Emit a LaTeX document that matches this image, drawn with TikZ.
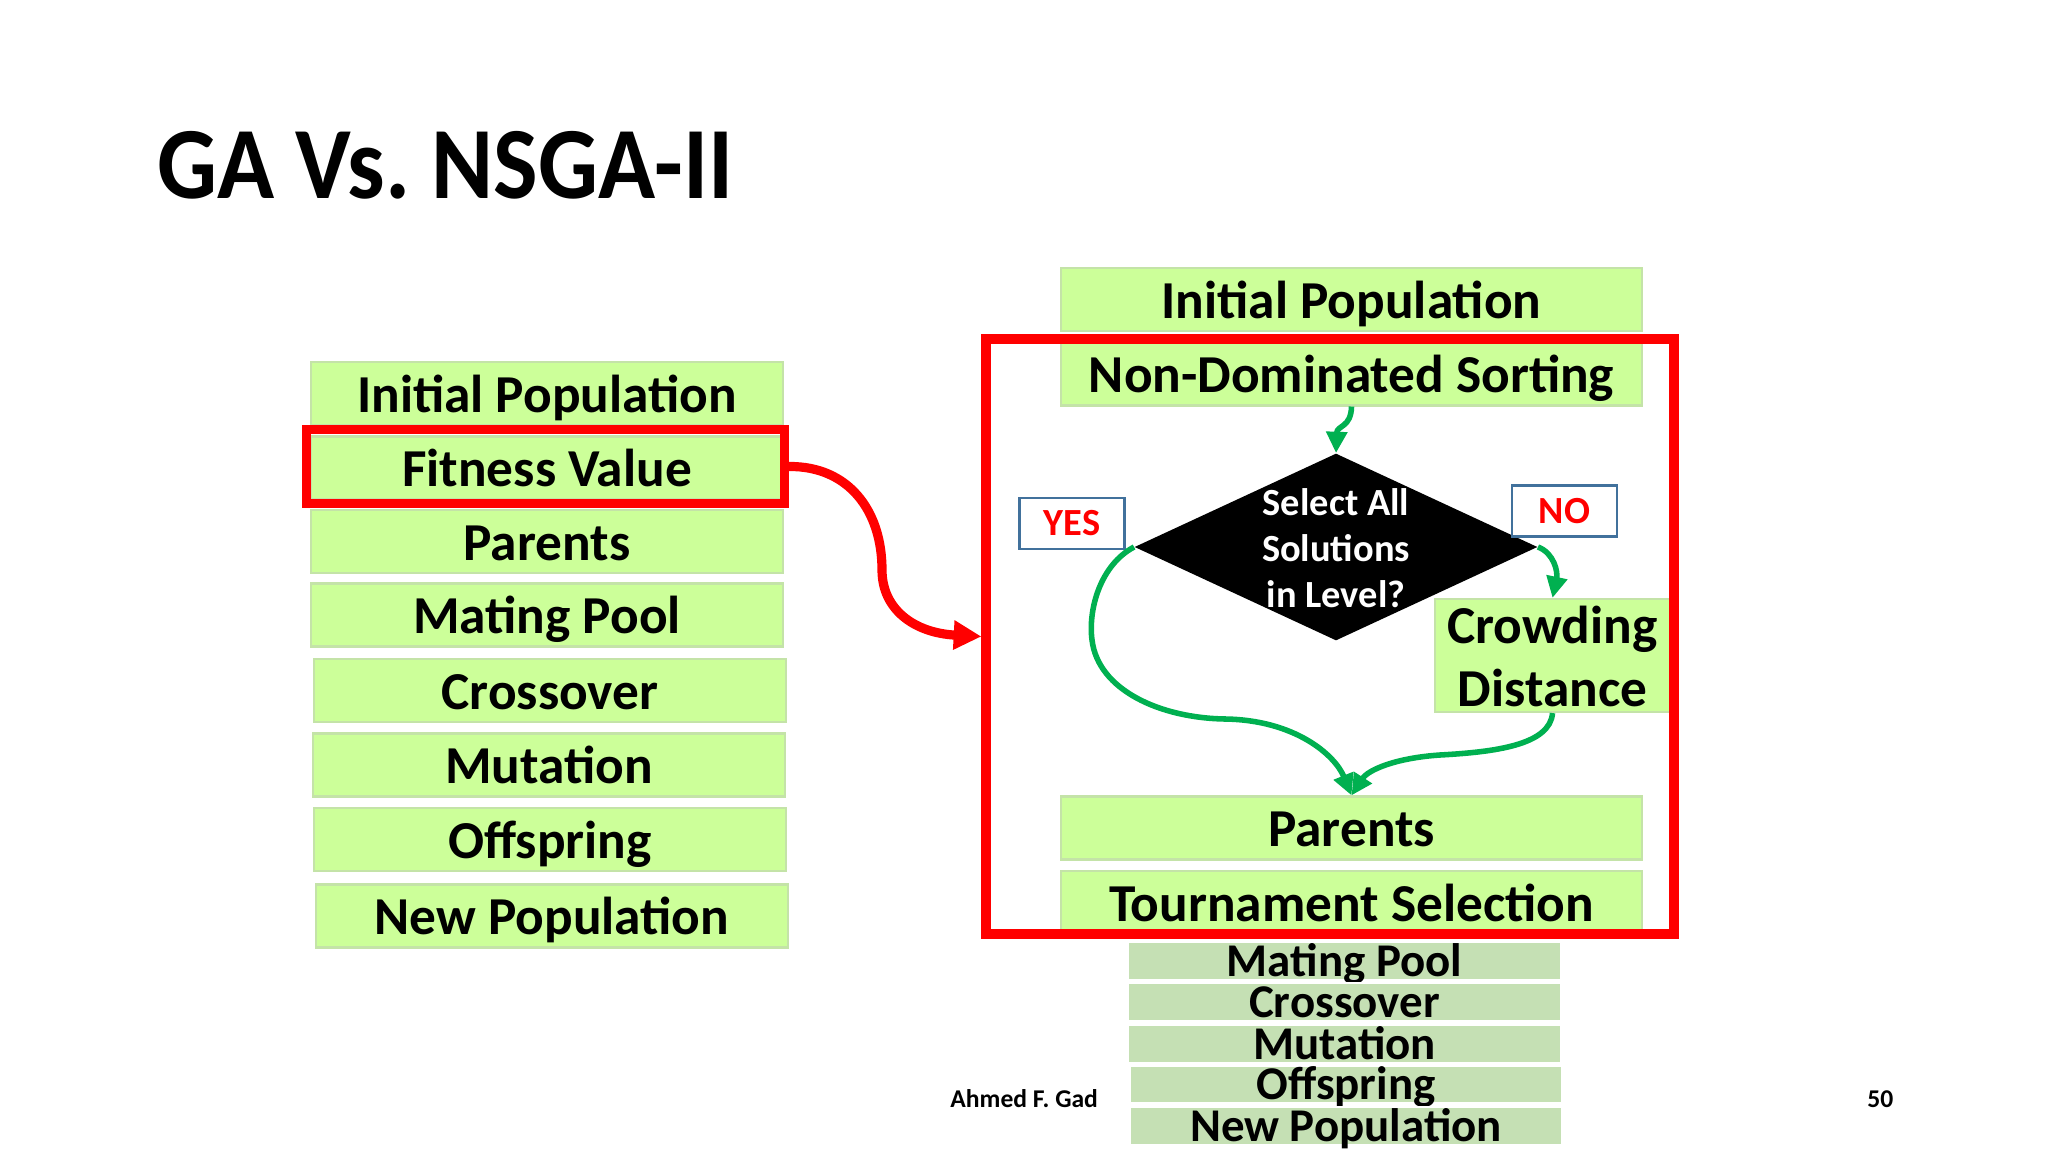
\documentclass[tikz,border=0pt]{standalone}
\usepackage{fontspec}
\setmainfont{Carlito}
\usetikzlibrary{arrows.meta,shapes.geometric}
\newdimen\PX \PX=0.46875pt
\definecolor{boxg}{HTML}{CCFF99}
\definecolor{boxline}{HTML}{C4E3A8}
\definecolor{boxd}{HTML}{C5E0B4}
\definecolor{arrg}{HTML}{00B050}
\definecolor{hlred}{HTML}{FF0000}
\definecolor{lblue}{HTML}{41719C}
\frenchspacing
\begin{document}
\begin{tikzpicture}[x=0.46875pt,y=-0.46875pt,
  gbox/.style={fill=boxg,draw=boxline,line width=1pt,inner sep=0pt,
    font=\bfseries\fontsize{25}{30}\selectfont,text height=17.4pt,text depth=0pt},
  dbox/.style={fill=boxd,draw=white,line width=1pt,inner sep=0pt,
    font=\bfseries\fontsize{22}{26}\selectfont,text height=14.2pt,text depth=0pt},
  lbox/.style={gbox,minimum width=472\PX,minimum height=63\PX},
  rbox/.style={gbox,minimum width=581\PX,minimum height=63\PX},
  sbox/.style={dbox,minimum width=433\PX,minimum height=38\PX},
  ynbox/.style={draw=lblue,line width=1pt,fill=white,inner sep=0pt,text=hlred,
    font=\bfseries\fontsize{18}{21}\selectfont,minimum width=105\PX,minimum height=51\PX,
    text height=11.4pt,text depth=0pt},
  garrow/.style={draw=arrg,line width=2.6pt,-{Triangle[length=10pt,width=9.5pt]}},
  redbox/.style={draw=hlred,line width=4.3pt,inner sep=0pt},
]
\useasboundingbox (0,0) rectangle (2048,1152);
\fill[white] (0,0) rectangle (2048,1152);

% title
\node[anchor=base west,inner sep=0pt,font=\bfseries\fontsize{48}{56}\selectfont] (title) at (157,199) {\scalebox{0.92}[1]{GA Vs. NSGA-II}};

% left column
\node[lbox] (l1) at (547,393.5) {Initial Population};
\node[lbox] (l2) at (547,468) {Fitness Value};
\node[lbox] (l3) at (547,541.5) {Parents};
\node[lbox] (l4) at (547,615) {Mating Pool};
\node[lbox] (l5) at (550,690.5) {Crossover};
\node[lbox] (l6) at (549,765) {Mutation};
\node[lbox] (l7) at (550,839.5) {Offspring};
\node[lbox] (l8) at (552,916) {New Population};
\node[redbox,minimum width=478\PX,minimum height=74\PX] (fithl) at (545.5,466.5) {};

% right column
\node[rbox] (r1) at (1351.5,299.5) {Initial Population};
\node[rbox] (r2) at (1351.5,374) {Non-Dominated Sorting};
\node[diamond,fill=black,inner sep=0pt,minimum width=403\PX,minimum height=187\PX] (dia) at (1336,547) {};
\node[align=center,text=white,font=\bfseries\fontsize{18}{21.5}\selectfont,inner sep=0pt] (diatext) at (1336,548) {Select All\\Solutions\\in Level?};
\node[ynbox] (yes) at (1072,523.5) {YES};
\node[ynbox] (no) at (1564.5,511) {NO};
\node[gbox,minimum width=235\PX,minimum height=113\PX,align=center,text height=47.6pt,
  font=\bfseries\fontsize{25}{29.5}\selectfont] (crowd) at (1552.5,655.5) {Crowding\\Distance};
\node[rbox] (r3) at (1351.5,828) {Parents};
\node[rbox] (r4) at (1351.5,902.5) {Tournament Selection};

% bottom stack
\node[sbox] (b1) at (1344.5,961) {Mating Pool};
\node[sbox] (b2) at (1344.5,1002) {Crossover};
\node[sbox] (b3) at (1344.5,1044) {Mutation};
\node[sbox] (b4) at (1346,1084.5) {Offspring};
\node[sbox] (b5) at (1346,1126) {New Population};

\node[redbox,minimum width=688\PX,minimum height=595\PX] (bigred) at (1330,636.5) {};

% green connectors
\draw[garrow] (r2.south) .. controls (1351,428) and (1337,425) .. (dia.north);
\draw[garrow] (dia.east) .. controls (1554,553) and (1558,572) .. (crowd.north);
\draw[garrow] (dia.west) .. controls (1100,565) and (1088,610) .. (1092,640)
   .. controls (1098,690) and (1160,718) .. (1225,719)
   .. controls (1295,720) and (1335,755) .. (r3.north);
\draw[garrow] (crowd.south) .. controls (1550,745) and (1495,752) .. (1440,755)
   .. controls (1395,758) and (1368,770) .. (r3.north);

% red connector
\draw[draw=hlred,line width=4.3pt,-{Triangle[length=13pt,width=13pt]}]
  (fithl.east) .. controls (848,466) and (882,510) .. (882,570)
  .. controls (882,610) and (915,633) .. (bigred.west);

% footer
\node[anchor=base west,inner sep=0pt,font=\bfseries\fontsize{12}{14}\selectfont] (author) at (950,1107) {Ahmed F. Gad};
\node[anchor=base west,inner sep=0pt,font=\bfseries\fontsize{12}{14}\selectfont] (page) at (1867,1107) {50};
\end{tikzpicture}
\end{document}
